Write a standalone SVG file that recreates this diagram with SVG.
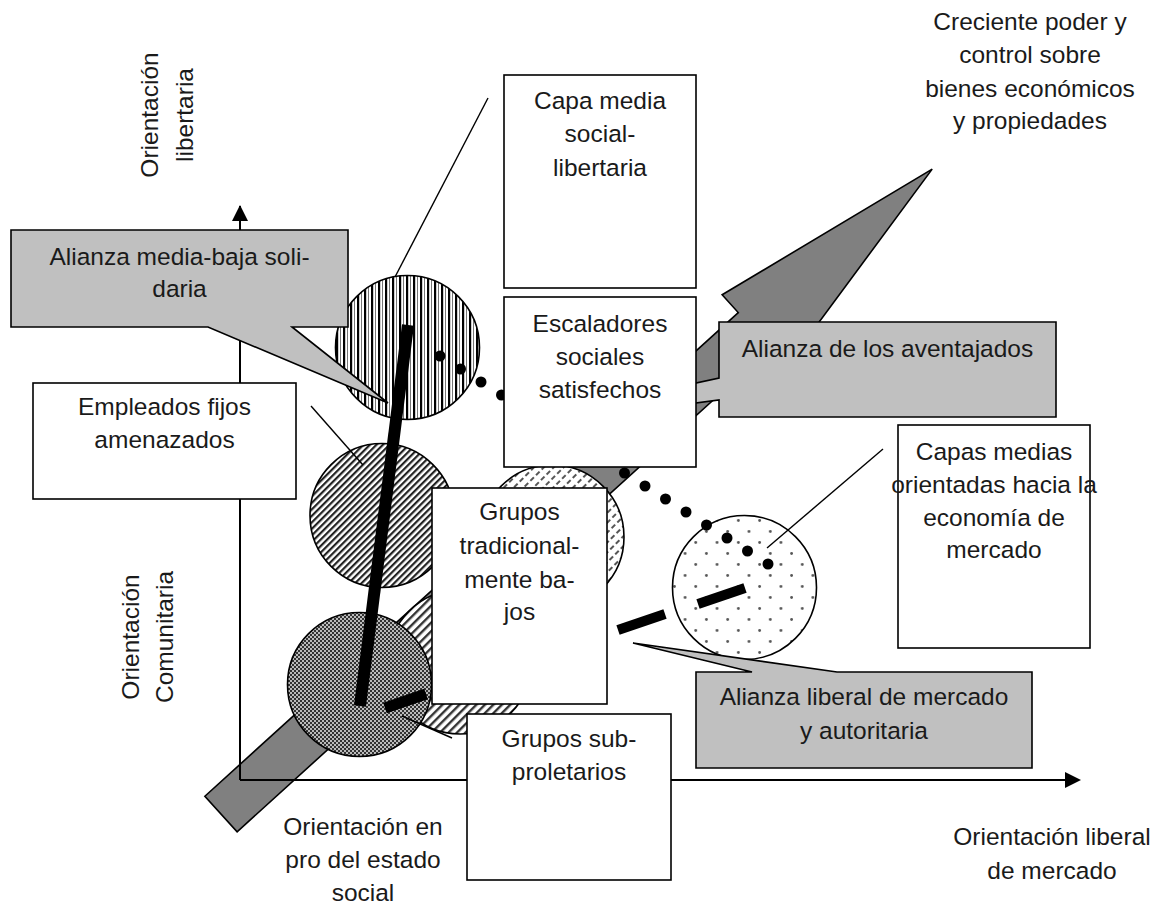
<svg xmlns="http://www.w3.org/2000/svg" width="1162" height="904" viewBox="0 0 1162 904">
<style>
text{font-family:"Liberation Sans",Arial,sans-serif;font-size:24.5px;fill:#1a1a1a;text-anchor:middle}
.box{fill:#fff;stroke:#000;stroke-width:1.6}
.call{fill:#c0c0c0;stroke:#000;stroke-width:1.6}
.circ{stroke:#000;stroke-width:1.6}
.thin{stroke:#000;stroke-width:1.4;fill:none}
.thick{stroke:#000;stroke-linecap:butt;fill:none}
.axis{stroke:#000;stroke-width:2;fill:none}
</style>
<defs>
<pattern id="pVert" width="7" height="10" patternUnits="userSpaceOnUse">
<rect width="7" height="10" fill="#fff"/>
<rect x="0" y="0" width="2.2" height="10" fill="#000"/>
<rect x="4" y="0" width="0.9" height="10" fill="#666"/>
</pattern>
<pattern id="pDiagDark" width="4.6" height="4.6" patternUnits="userSpaceOnUse" patternTransform="rotate(45)">
<rect width="4.6" height="4.6" fill="#fff"/>
<rect x="0" y="0" width="2.2" height="4.6" fill="#222"/>
</pattern>
<pattern id="pDiagMed" width="6" height="6" patternUnits="userSpaceOnUse" patternTransform="rotate(45)">
<rect width="6" height="6" fill="#fff"/>
<rect x="0" y="0" width="2.4" height="6" fill="#333"/>
</pattern>
<pattern id="pDiagLight" width="7" height="8" patternUnits="userSpaceOnUse" patternTransform="rotate(45)">
<rect width="7" height="8" fill="#fff"/>
<rect x="0" y="0" width="2" height="5" fill="#555"/>
</pattern>
<pattern id="pCheck" width="4" height="4" patternUnits="userSpaceOnUse">
<rect width="4" height="4" fill="#bbb"/>
<rect x="0" y="0" width="2" height="2" fill="#333"/>
<rect x="2" y="2" width="2" height="2" fill="#333"/>
</pattern>
<pattern id="pDots" width="21.3" height="22" patternUnits="userSpaceOnUse" x="2" y="2">
<rect width="21.3" height="22" fill="#fff"/>
<circle cx="1.5" cy="1.5" r="1.4" fill="#555"/>
<circle cx="12.15" cy="12.5" r="1.4" fill="#555"/>
</pattern>
</defs>

<g id="big-arrow">
<polygon transform="translate(221,814) rotate(-42.2)" points="0,-24 720,-24 720,-48 960,0 720,48 720,24 0,24" fill="#808080" stroke="#000" stroke-width="1.6"/>
</g>

<g id="axes">
<path class="axis" d="M240,780 V206"/>
<polygon points="240,205 232,221 248,221" fill="#000"/>
<path class="axis" d="M240,780 H1066"/>
<polygon points="1081,780 1065,772 1065,788" fill="#000"/>
</g>

<g id="circles">
<circle id="c-trad" class="circ" cx="552" cy="537" r="72" fill="url(#pDiagLight)"/>
<circle id="c-sub" class="circ" cx="460" cy="662" r="72" fill="url(#pDiagMed)"/>
<circle id="c-libertaria" class="circ" cx="407.5" cy="347.5" r="72" fill="url(#pVert)"/>
<circle id="c-empleados" class="circ" cx="382" cy="515.5" r="72" fill="url(#pDiagDark)"/>
<circle id="c-check" class="circ" cx="359.5" cy="684.5" r="72" fill="url(#pCheck)"/>
<circle id="c-mercado" class="circ" cx="744.5" cy="587.5" r="72" fill="url(#pDots)"/>
</g>

<g id="connectors">
<line class="thin" x1="488" y1="98" x2="395" y2="277"/>
<line class="thin" x1="311" y1="406" x2="363" y2="465"/>
<line class="thin" x1="883" y1="449" x2="767" y2="548"/>
<line class="thin" x1="402" y1="716" x2="452" y2="738"/>
<line class="thick" x1="408" y1="325" x2="360" y2="706" stroke-width="12"/>
<line class="thick" x1="385" y1="708" x2="426" y2="694" stroke-width="11"/>
<line class="thick" x1="618" y1="630" x2="665" y2="614" stroke-width="10"/>
<line class="thick" x1="698" y1="604" x2="745" y2="588" stroke-width="10"/>
<g id="dots" fill="#000">
<circle cx="440" cy="356" r="5.5"/><circle cx="460.5" cy="369" r="5.5"/><circle cx="481" cy="382" r="5.5"/><circle cx="501.5" cy="395" r="5.5"/>
<circle cx="522" cy="408" r="5.5"/><circle cx="542.5" cy="421" r="5.5"/><circle cx="563" cy="434" r="5.5"/><circle cx="583.5" cy="447" r="5.5"/>
<circle cx="604" cy="460" r="5.5"/><circle cx="624.5" cy="473" r="5.5"/><circle cx="645" cy="486" r="5.5"/><circle cx="665.5" cy="499" r="5.5"/>
<circle cx="686" cy="512" r="5.5"/><circle cx="706.5" cy="525" r="5.5"/><circle cx="727" cy="538" r="5.5"/><circle cx="747.5" cy="551" r="5.5"/>
<circle cx="768" cy="564" r="5.5"/>
</g>
</g>

<g id="n-capa-media">
<rect class="box" x="504" y="75" width="192" height="213"/>
<text x="600" y="109">Capa media</text>
<text x="600" y="142">social-</text>
<text x="600" y="176">libertaria</text>
</g>

<g id="n-alianza-aventajados">
<path class="call" d="M719,322 H1056 V417 H719 V400 L650,409 L650,393 L719,378 Z"/>
<text x="887.5" y="357">Alianza de los aventajados</text>
</g>

<g id="n-escaladores">
<rect class="box" x="504" y="297" width="192" height="170"/>
<text x="600" y="332">Escaladores</text>
<text x="600" y="365">sociales</text>
<text x="600" y="398">satisfechos</text>
</g>

<g id="n-alianza-media-baja">
<path class="call" d="M11,230 H348 V327 H292 L388,403 L208,327 H11 Z"/>
<text x="179.5" y="265">Alianza media-baja soli-</text>
<text x="179.5" y="297">daria</text>
</g>

<g id="n-empleados">
<rect class="box" x="33" y="383" width="263" height="116"/>
<text x="164.5" y="415">Empleados fijos</text>
<text x="164.5" y="448">amenazados</text>
</g>

<g id="n-capas-medias">
<rect class="box" x="898" y="425" width="192" height="223"/>
<text x="994" y="460">Capas medias</text>
<text x="994" y="493">orientadas hacia la</text>
<text x="994" y="526">economía de</text>
<text x="994" y="558">mercado</text>
</g>

<g id="n-grupos-trad">
<rect class="box" x="432" y="488" width="175" height="216"/>
<text x="519.5" y="520">Grupos</text>
<text x="519.5" y="554">tradicional-</text>
<text x="519.5" y="588">mente ba-</text>
<text x="519.5" y="620">jos</text>
</g>

<g id="n-alianza-liberal">
<path class="call" d="M696,672 H752 L633,643 L837,672 H1032 V768 H696 Z"/>
<text x="864" y="705">Alianza liberal de mercado</text>
<text x="864" y="739">y autoritaria</text>
</g>

<g id="n-grupos-sub">
<rect class="box" x="467" y="714" width="204" height="166"/>
<text x="569" y="747">Grupos sub-</text>
<text x="569" y="780">proletarios</text>
</g>

<g id="labels">
<text x="1030" y="30">Creciente poder y</text>
<text x="1030" y="63">control sobre</text>
<text x="1030" y="97">bienes económicos</text>
<text x="1030" y="129">y propiedades</text>
<text x="363" y="835">Orientación en</text>
<text x="363" y="868">pro del estado</text>
<text x="363" y="901">social</text>
<text x="1052" y="845">Orientación liberal</text>
<text x="1052" y="879">de mercado</text>
<text transform="translate(158,115) rotate(-90)" x="0" y="0">Orientación</text>
<text transform="translate(193,115) rotate(-90)" x="0" y="0">libertaria</text>
<text transform="translate(139,637) rotate(-90)" x="0" y="0">Orientación</text>
<text transform="translate(173,637) rotate(-90)" x="0" y="0">Comunitaria</text>
</g>
</svg>
